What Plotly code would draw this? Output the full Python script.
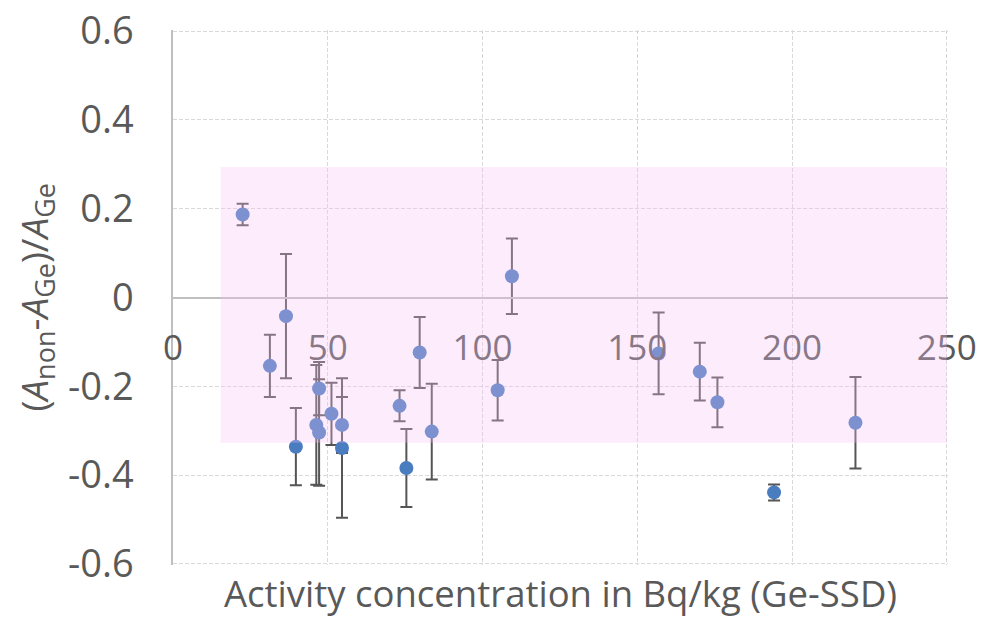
import plotly.graph_objects as go

# Activity concentration measured with the Ge-SSD (Bq/kg)
activity = [22.5, 31.3, 36.5, 39.7, 46.3, 47.2, 47.2, 51.2, 54.6, 54.6, 73.2,
            75.4, 79.7, 83.6, 104.9, 109.5, 156.9, 170.2, 175.9, 194.2, 220.5]
# Relative deviation (A_non - A_Ge) / A_Ge
deviation = [0.187, -0.154, -0.042, -0.336, -0.287, -0.304, -0.205, -0.262,
             -0.287, -0.339, -0.244, -0.384, -0.124, -0.302, -0.209, 0.048,
             -0.126, -0.167, -0.236, -0.439, -0.282]
# Uncertainty of each deviation
uncertainty = [0.024, 0.07, 0.14, 0.087, 0.135, 0.12, 0.06, 0.07, 0.063,
               0.157, 0.035, 0.088, 0.08, 0.108, 0.068, 0.085, 0.092, 0.065,
               0.056, 0.018, 0.103]

# Acceptance band
band_x = [15.4, 250]
band_y = [-0.327, 0.294]

y_ticks = [0.6, 0.4, 0.2, 0, -0.2, -0.4, -0.6]
y_tick_text = ["0.6", "0.4", "0.2", "0", "-0.2", "-0.4", "-0.6"]
x_ticks = [0, 50, 100, 150, 200, 250]

FONT = "Open Sans"
GREY = "#595959"

fig = go.Figure()
fig.add_trace(go.Scatter(
    x=activity, y=deviation, mode="markers",
    marker=dict(color="#4A7CC0", size=14),
    error_y=dict(type="data", array=uncertainty, color="#555555",
                 thickness=2, width=6),
    showlegend=False,
))

# translucent band laid over the data
fig.add_shape(type="rect", xref="x", yref="y",
              x0=band_x[0], x1=band_x[1], y0=band_y[0], y1=band_y[1],
              fillcolor="rgba(246,192,245,0.3)", line_width=0, layer="above")

fig.update_layout(
    width=987, height=619,
    margin=dict(l=173, r=39, t=30, b=54),
    paper_bgcolor="white", plot_bgcolor="white",
    font=dict(family=FONT, color=GREY),
    xaxis=dict(
        range=[0, 250.4], tickvals=x_ticks, anchor="free", position=0.5,
        automargin=False,
        showline=True, linecolor="#bfbfbf", linewidth=1.5,
        showgrid=True, gridcolor="#d9d9d9", griddash="4px,2px", gridwidth=1,
        zeroline=False, ticks="", ticklabelstandoff=20,
        tickfont=dict(size=35, color=GREY, family=FONT),
    ),
    yaxis=dict(
        range=[-0.6025, 0.6025], tickvals=y_ticks, ticktext=y_tick_text,
        automargin=False,
        showline=True, linecolor="#bfbfbf", linewidth=1.5,
        showgrid=True, gridcolor="#d9d9d9", griddash="4px,2px", gridwidth=1,
        zeroline=False, ticks="", ticklabelstandoff=30,
        tickfont=dict(size=38, color=GREY, family=FONT),
    ),
)

# y-axis title
fig.add_annotation(
    text=("(<i>A</i><sub><span style='font-size:27px'>non</span></sub>-"
          "<i>A</i><sub><span style='font-size:27px'>Ge</span></sub>)/"
          "<i>A</i><sub><span style='font-size:27px'>Ge</span></sub>"),
    xref="paper", yref="paper", x=-0.178, y=0.5,
    xanchor="center", yanchor="middle", textangle=-90, showarrow=False,
    font=dict(size=37, color=GREY, family=FONT),
)

# x-axis title
fig.add_annotation(
    text="Activity concentration in Bq/kg (Ge-SSD)",
    xref="paper", yref="paper", x=0.5, y=0, yshift=-1,
    xanchor="center", yanchor="top", showarrow=False,
    font=dict(size=36.5, color=GREY, family=FONT),
)

fig.write_html("out.html")
